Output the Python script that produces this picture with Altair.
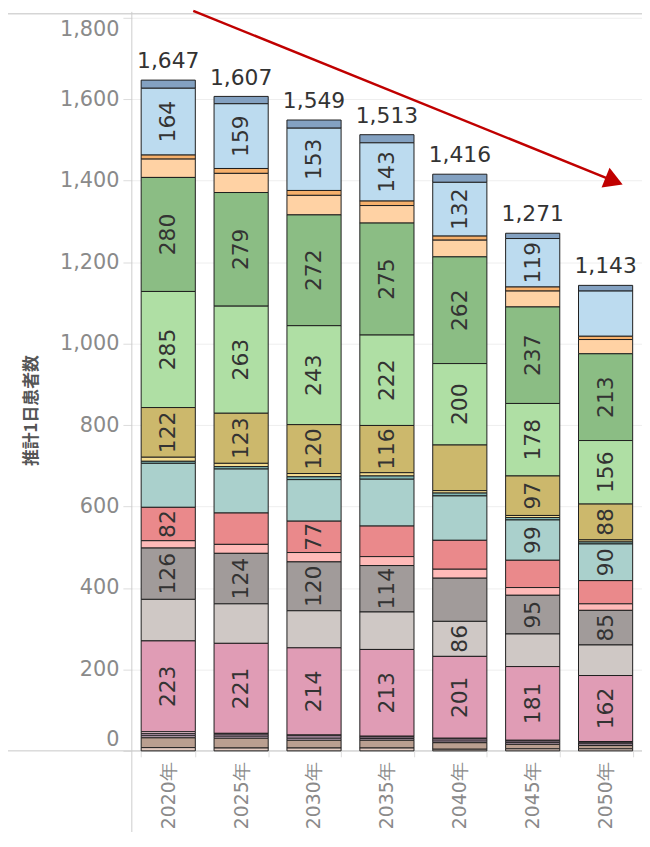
import altair as alt
import pandas as pd

years = ["2020年", "2025年", "2030年", "2035年", "2040年", "2045年", "2050年"]
totals = [1647, 1607, 1549, 1513, 1416, 1271, 1143]

# series, listed from the top of each stack to the bottom
s01 = [20, 18, 20, 20, 20, 13, 14]
s02 = [164, 159, 153, 143, 132, 119, 111]
s03 = [10, 12, 12, 11, 10, 10, 8]
s04 = [45, 47, 48, 43, 41, 39, 35]
s05 = [280, 279, 272, 275, 262, 237, 213]
s06 = [285, 263, 243, 222, 200, 178, 156]
s07 = [122, 123, 120, 116, 112, 97, 88]
s08 = [10, 8, 8, 8, 6, 5, 5]
s09 = [5, 6, 7, 8, 7, 6, 5]
s10 = [108, 108, 102, 115, 109, 99, 90]
s11 = [82, 77, 77, 75, 71, 67, 57]
s12 = [18, 22, 23, 22, 22, 19, 16]
s13 = [126, 124, 120, 114, 106, 95, 85]
s14 = [102, 97, 91, 92, 86, 80, 75]
s15 = [223, 221, 214, 213, 201, 181, 162]
s16 = [5, 2, 2, 2, 2, 2, 2]
s17 = [5, 5, 6, 4, 5, 4, 4]
s18 = [5, 5, 5, 4, 4, 4, 4]
s19 = [24, 24, 19, 19, 16, 11, 8]
s20 = [8, 7, 7, 7, 4, 5, 5]
series = [s01, s02, s03, s04, s05, s06, s07, s08, s09, s10,
          s11, s12, s13, s14, s15, s16, s17, s18, s19, s20]
categories = [f"分類{i:02d}" for i in range(1, 21)]
colors = ["#83a1c1", "#bcdbef", "#f6b06b", "#ffd2a4", "#8bbd84", "#afdfa4",
          "#ccb86c", "#f5dd92", "#80b7b4", "#aad0cc", "#ea898b", "#ffbab8",
          "#a19b9a", "#cfc8c5", "#e09cb5", "#fcd2e0", "#c8a2bd", "#e1c1d8",
          "#ba9f90", "#e3cbc1"]

# which series carry a value label in each year (1-based series numbers)
lab_2020 = [2, 5, 6, 7, 11, 13, 15]
lab_2025 = [2, 5, 6, 7, 13, 15]
lab_2030 = [2, 5, 6, 7, 11, 13, 15]
lab_2035 = [2, 5, 6, 7, 13, 15]
lab_2040 = [2, 5, 6, 14, 15]
lab_2045 = [2, 5, 6, 7, 10, 13, 15]
lab_2050 = [5, 6, 7, 10, 13, 15]
labeled = [lab_2020, lab_2025, lab_2030, lab_2035, lab_2040, lab_2045, lab_2050]

# trend arrow (x in category steps, y in data units)
arrow_x = [0.843, 6.617]
arrow_y = [1817, 1399]

rows = []
n = len(series)
for yi, yr in enumerate(years):
    for si, s in enumerate(series):
        rows.append({"year": yr, "cat": categories[si], "value": s[yi],
                     "ord": n - 1 - si, "show": (si + 1) in labeled[yi]})
df = pd.DataFrame(rows)
df_tot = pd.DataFrame({"year": years, "total": totals})
df_arrow = pd.DataFrame({"ax": arrow_x, "ay": arrow_y})
df_head = df_arrow.iloc[[1]]
one = pd.DataFrame({"k": [0]})

W, H = 515, 740
NUM_FONT = "DejaVu Sans"

xscale = alt.Scale(paddingInner=0.257, paddingOuter=0.128)
xenc = alt.X("year:N", sort=years, scale=xscale,
             axis=alt.Axis(title=None, labelAngle=-90, labelFont=NUM_FONT,
                           labelFontSize=19, labelColor="#8a8a8a",
                           tickBand="extent", tickSize=6, tickColor="#dddddd",
                           domain=False, labelPadding=5))
yscale = alt.Scale(domain=[0, 1800], nice=False, zero=True)

base = alt.Chart(df).transform_stack(
    stack="value", groupby=["year"], as_=["y0", "y1"],
    sort=[alt.SortField("ord", order="ascending")])

bars = base.mark_bar(stroke="#1e1e1e", strokeWidth=1).encode(
    x=xenc,
    y=alt.Y("y0:Q", scale=yscale,
            axis=alt.Axis(values=list(range(0, 1801, 200)), format=",d",
                          labelFont=NUM_FONT, labelFontSize=21,
                          labelColor="#8a8a8a", labelFlush=True,
                          labelFlushOffset=-1, tickSize=9,
                          tickColor="#dcdcdc", domain=False,
                          gridColor="#eeeeee", labelPadding=4,
                          title="推計1日患者数", titleFont="Noto Sans CJK JP",
                          titleFontSize=17, titleFontWeight="bold",
                          titleColor="#555555", titleX=-101, titleY=396,
                          titleBaseline="middle", titleAngle=270)),
    y2="y1:Q",
    color=alt.Color("cat:N", scale=alt.Scale(domain=categories, range=colors),
                    legend=None),
)

seg_labels = base.transform_filter("datum.show").transform_calculate(
    mid="(datum.y0 + datum.y1) / 2"
).mark_text(angle=270, font=NUM_FONT, fontSize=22, color="#333333",
            baseline="middle", align="center").encode(
    x=alt.X("year:N", sort=years, scale=xscale),
    y=alt.Y("mid:Q", scale=yscale),
    text=alt.Text("value:Q"))

tot_labels = alt.Chart(df_tot).mark_text(
    font=NUM_FONT, fontSize=22, color="#333333", baseline="alphabetic",
    dy=-12).encode(
    x=alt.X("year:N", sort=years, scale=xscale),
    y=alt.Y("total:Q", scale=yscale),
    text=alt.Text("total:Q", format=","))

main = alt.layer(bars, seg_labels, tot_labels)

xline = alt.Chart(one).mark_rule(color="#c8c8c8", strokeWidth=1).encode(
    x=alt.value(-130), x2=alt.value(W + 5), y=alt.value(H))
topline = alt.Chart(one).mark_rule(color="#d5d5d5", strokeWidth=1.5).encode(
    x=alt.value(-130), x2=alt.value(W + 5), y=alt.value(-4))
yline = alt.Chart(one).mark_rule(color="#cccccc", strokeWidth=1).encode(
    x=alt.value(0), y=alt.value(-6), y2=alt.value(H + 120))

ax_scale = alt.Scale(domain=[0, 7], nice=False, zero=False)
arrow_line = alt.Chart(df_arrow).mark_line(color="#c00000", strokeWidth=2.5).encode(
    x=alt.X("ax:Q", scale=ax_scale, axis=None),
    y=alt.Y("ay:Q", scale=yscale))
arrow_head = alt.Chart(df_head).mark_point(
    shape="triangle-right", filled=True, size=460, angle=22,
    color="#c00000", opacity=1).encode(
    x=alt.X("ax:Q", scale=ax_scale, axis=None),
    y=alt.Y("ay:Q", scale=yscale))
arrow = alt.layer(arrow_line, arrow_head)

chart = alt.layer(
    xline, topline, yline, main, arrow
).resolve_scale(x="independent").properties(
    width=W, height=H,
    autosize=alt.AutoSizeParams(type="none"),
    padding={"left": 125, "top": 6, "right": 0, "bottom": 78},
).configure_view(stroke=None)

chart.save("out.html", embed_options={"renderer": "svg", "actions": False})
